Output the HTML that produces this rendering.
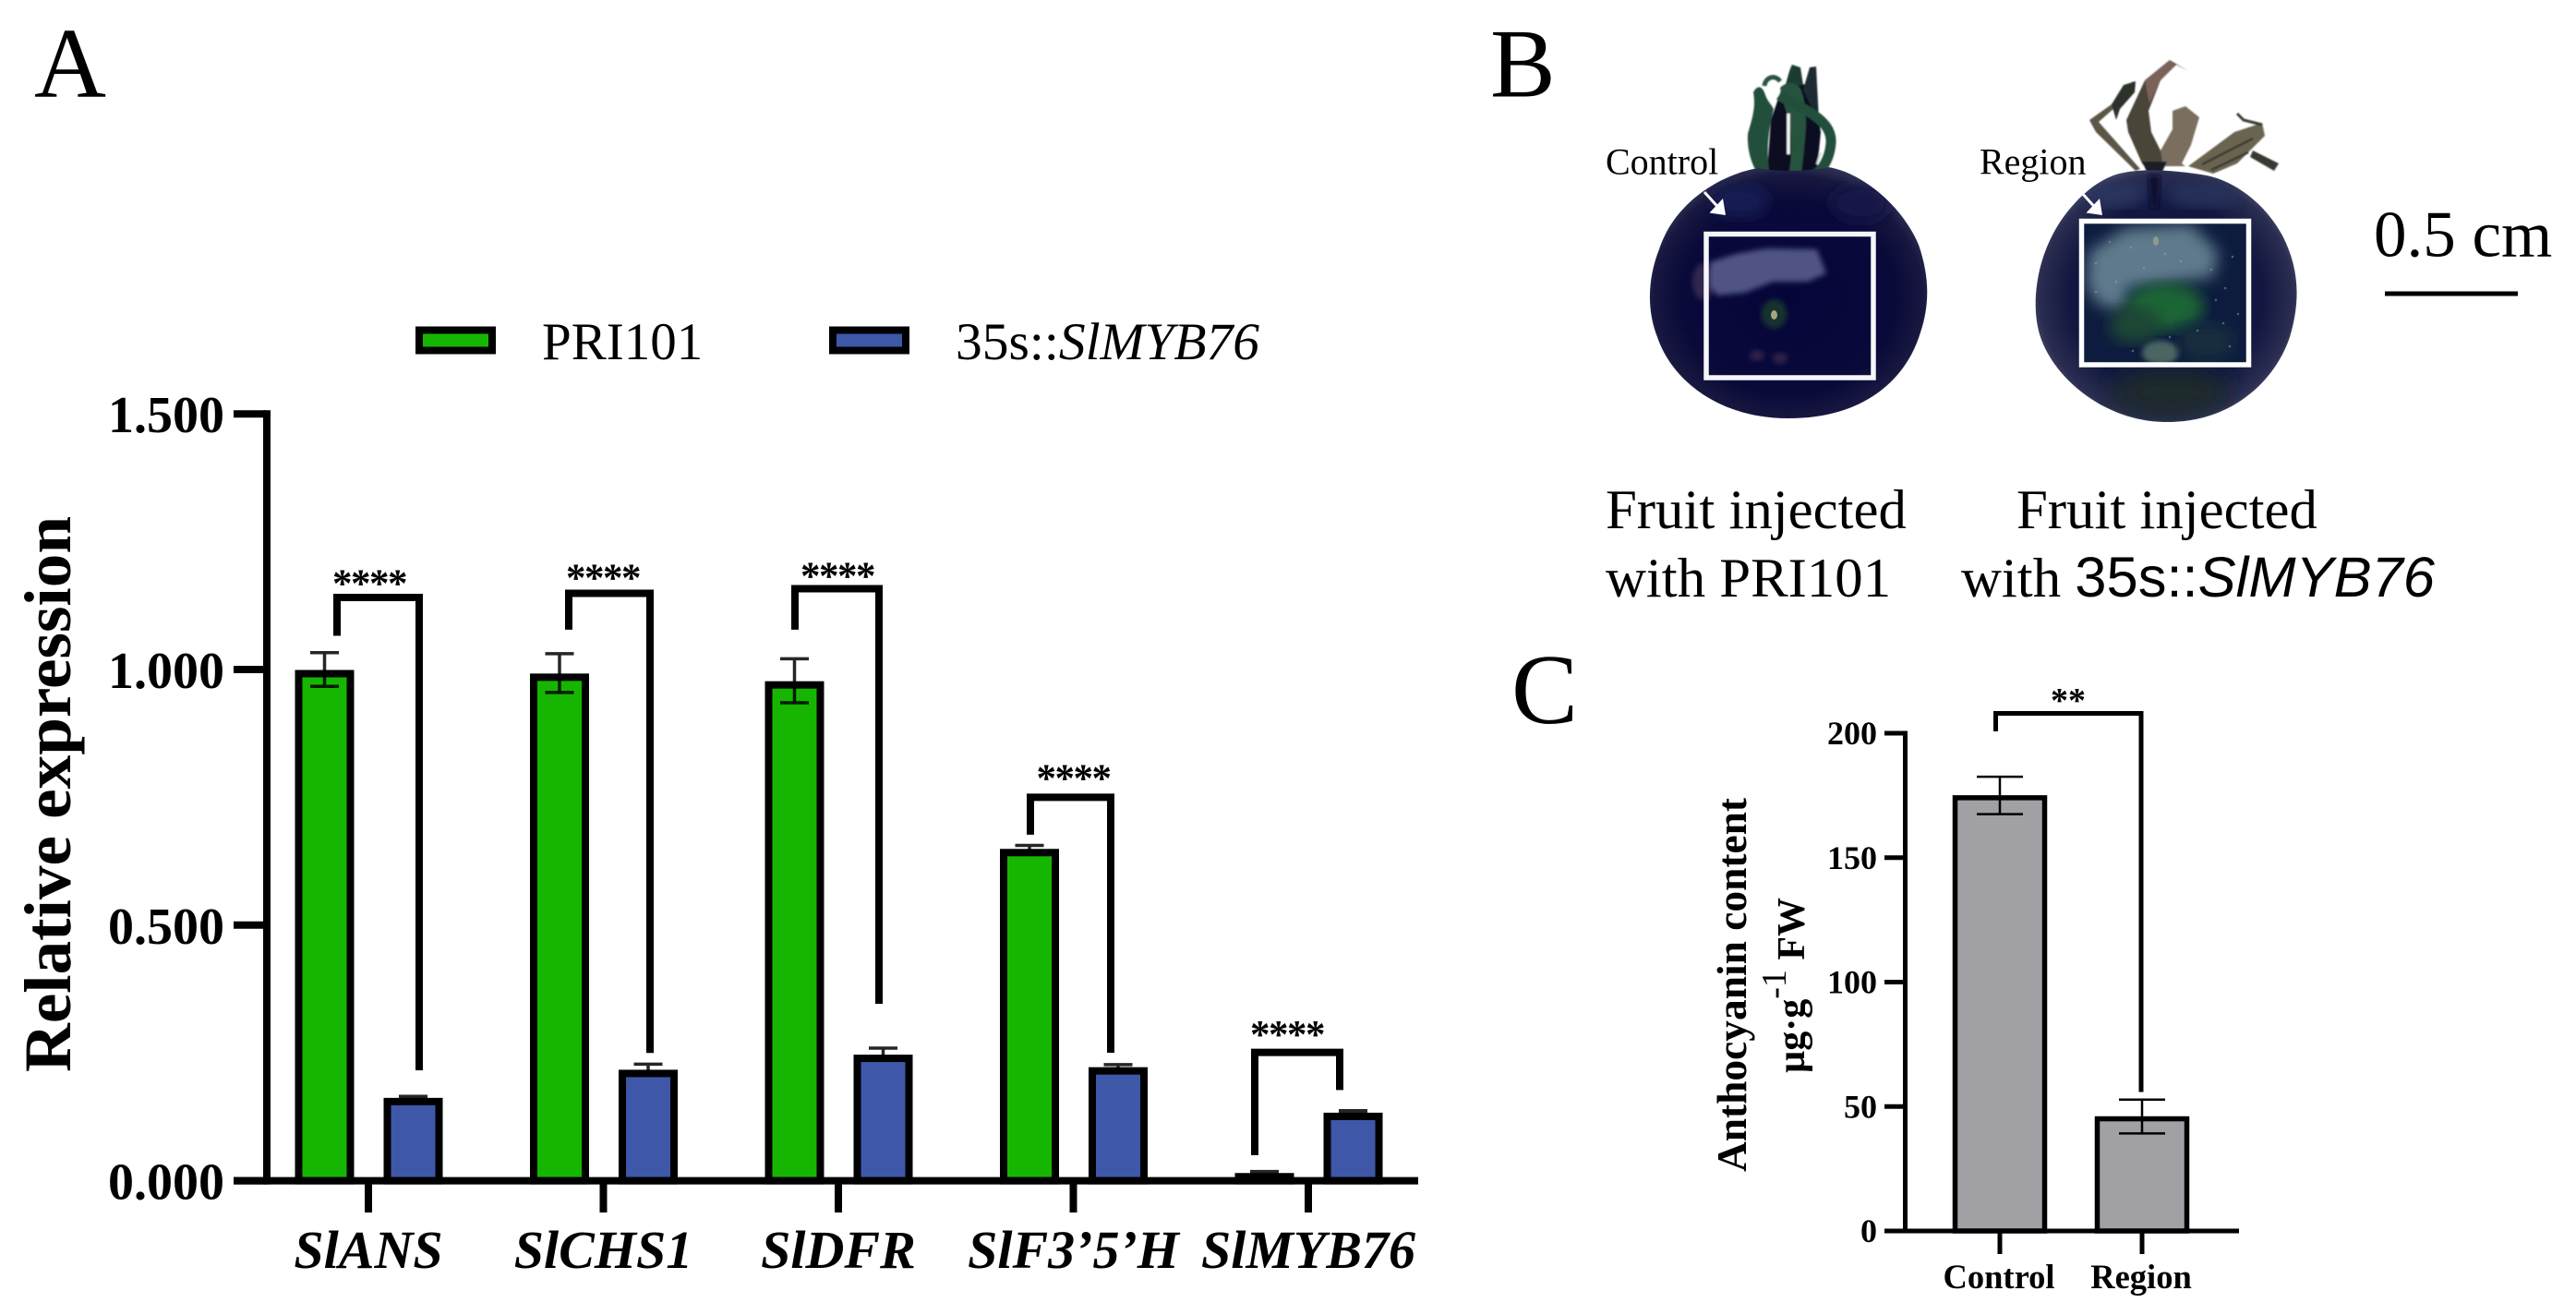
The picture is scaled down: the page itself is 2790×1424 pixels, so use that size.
<!DOCTYPE html>
<html lang="en">
<head>
<meta charset="utf-8">
<title>SlMYB76 expression and anthocyanin content</title>
<style>
html,body{margin:0;padding:0;background:#fff;width:2790px;height:1424px;overflow:hidden}
svg{display:block}
text{font-family:"Liberation Serif",serif;fill:#000}
</style>
</head>
<body>
<svg id="fig" xmlns="http://www.w3.org/2000/svg" width="2790" height="1424" viewBox="0 0 2790 1424">
<defs>
<radialGradient id="t1" cx="50%" cy="52%" r="54%">
<stop offset="0" stop-color="#05053a"/><stop offset=".7" stop-color="#09093a"/><stop offset=".9" stop-color="#17173f"/><stop offset="1" stop-color="#2f3355"/>
</radialGradient>
<radialGradient id="t2" cx="50%" cy="50%" r="54%">
<stop offset="0" stop-color="#0e1640"/><stop offset=".68" stop-color="#111740"/><stop offset=".9" stop-color="#2a2d50"/><stop offset="1" stop-color="#4c5570"/>
</radialGradient>
<filter id="b1"><feGaussianBlur stdDeviation="0.800"/></filter>
<filter id="b3"><feGaussianBlur stdDeviation="3"/></filter>
<filter id="b8"><feGaussianBlur stdDeviation="8"/></filter>
<filter id="b16"><feGaussianBlur stdDeviation="13"/></filter>
<clipPath id="c2"><rect x="2254" y="239" width="182" height="156"/></clipPath>
<clipPath id="e1"><path d="M1905 182C1870 187 1815 215 1797 270C1785 300 1783 335 1795 365C1810 410 1860 453 1937 453C2020 453 2065 410 2080 360C2090 330 2090 300 2078 265C2060 222 2015 186 1980 181C1960 186 1920 186 1905 182Z"/></clipPath>
<clipPath id="e2"><path d="M2300 187C2270 192 2235 225 2218 265C2205 295 2200 335 2210 365C2225 410 2280 457 2347 457C2420 457 2465 410 2480 365C2492 325 2490 290 2472 255C2450 215 2415 195 2390 190C2360 185 2325 182 2300 187Z"/></clipPath>
</defs>
<rect x="0" y="0" width="2790" height="1424" fill="#fff"/>

<text x="37" y="104.500" font-size="108">A</text>
<text x="1614" y="104.500" font-size="106">B</text>
<text x="1637" y="783" font-size="108">C</text>

<g>
<rect x="454" y="357.500" width="79" height="22" fill="#16b600" stroke="#000" stroke-width="8"/>
<text x="587" y="389" font-size="57">PRI101</text>
<rect x="902" y="357.500" width="79" height="22" fill="#3e57a8" stroke="#000" stroke-width="8"/>
<text x="1035" y="389" font-size="57.500">35s::<tspan font-style="italic">SlMYB76</tspan></text>
</g>

<g id="chartA"></g>

<g>
<g filter="url(#b1)">
<path d="M1913 200L1918 130L1930 95L1963 90L1972 143L1967 195Z" fill="#0b1022"/>
<path d="M1933 95C1936 85 1938 75 1941 70L1950 73L1953 92Z" fill="#1c3a30"/>
<path d="M1953 97L1960 73L1967 72L1970 130L1960 112Z" fill="#1a2a30"/>
<path d="M1893 145C1897 130 1902 118 1899 100C1903 92 1908 93 1911 100C1914 110 1918 112 1921 118C1916 140 1912 160 1917 192L1907 194C1898 180 1892 165 1893 145Z" fill="#244f3a"/>
<path d="M1928 95C1935 88 1945 88 1950 96C1956 110 1957 130 1955 150C1953 170 1952 185 1949 195L1936 195C1942 170 1941 140 1936 125C1933 115 1930 108 1928 95Z" fill="#26523c"/>
<path d="M1911 93C1912 84 1922 80 1928 88" fill="none" stroke="#2a5540" stroke-width="5"/>
<path d="M1927 103C1950 118 1985 128 1983 155C1981 180 1965 195 1947 200" fill="none" stroke="#24503a" stroke-width="11"/>
<path d="M1937 123V167" stroke="#f4f4f4" stroke-width="3.500"/>
<path d="M1972 165L1968 178" stroke="#d6dcd6" stroke-width="2.500"/>
<path d="M1915 205H1958" stroke="#6a6a50" stroke-width="4"/>
</g>
<path d="M1905 182C1870 187 1815 215 1797 270C1785 300 1783 335 1795 365C1810 410 1860 453 1937 453C2020 453 2065 410 2080 360C2090 330 2090 300 2078 265C2060 222 2015 186 1980 181C1960 186 1920 186 1905 182Z" fill="url(#t1)"/>
<g clip-path="url(#e1)">
<ellipse cx="1885" cy="218" rx="30" ry="18" fill="#191c52" filter="url(#b8)"/>
<ellipse cx="2015" cy="220" rx="32" ry="20" fill="#15174a" filter="url(#b8)"/>
<ellipse cx="1845" cy="305" rx="12" ry="20" fill="#33264f" filter="url(#b3)"/>
<path d="M1852 284L1880 275L1913 269L1968 270L1978 296L1958 305L1920 305L1890 317L1860 320L1852 310Z" fill="#575c8c" fill-opacity=".9" filter="url(#b3)"/>
<ellipse cx="1921.500" cy="340" rx="14" ry="16" fill="#14302f" filter="url(#b3)"/>
<ellipse cx="1921.500" cy="341" rx="3.500" ry="5" fill="#a8a47c"/>
<ellipse cx="1903" cy="385" rx="8" ry="6" fill="#2e2248" filter="url(#b3)"/>
<ellipse cx="1928" cy="388" rx="8" ry="6" fill="#2e2248" filter="url(#b3)"/>
</g>
<rect x="1848" y="253.500" width="181" height="155.500" fill="none" stroke="#f6f6fa" stroke-width="5.500"/>
<line x1="1846" y1="208" x2="1865" y2="229" stroke="#fff" stroke-width="3"/>
<path d="M1869 233L1851.500 230.500L1866 215Z" fill="#fff"/>
<text x="1739" y="188.500" font-size="40">Control</text>
</g>

<g>
<g filter="url(#b1)">
<path d="M2263 130L2287 113L2310 88L2313 93L2290 117L2273 132L2318 183L2313 185L2270 143Z" fill="#5c5647"/>
<path d="M2287 113L2300 92L2313 88L2312 100L2296 118L2292 130Z" fill="#2a302a"/>
<path d="M2303 130L2323 87L2350 65L2370 77L2357 70L2340 87L2327 120L2330 143L2347 177L2330 187L2320 177L2305 143Z" fill="#4a4538"/>
<path d="M2323 87L2350 65L2356 70L2340 87L2328 112Z" fill="#7a6258"/>
<path d="M2353 120L2367 115L2382 127L2373 157L2363 177L2367 180L2343 180L2340 163L2353 140Z" fill="#7a6e5e"/>
<path d="M2370 180L2420 143L2450 133L2453 147L2437 163L2423 177L2397 188L2380 183Z" fill="#6a6350"/>
<path d="M2385 178L2440 150M2395 184L2435 165" stroke="#3a3a30" stroke-width="2.500"/>
<path d="M2423 123L2430 130L2450 135" fill="none" stroke="#3a3a34" stroke-width="3"/>
<path d="M2440 163L2468 177L2463 185L2437 170Z" fill="#343a32"/>
<path d="M2320 175L2347 175L2340 190L2337 207L2327 207L2327 190Z" fill="#1c1d28"/>
</g>
<path d="M2300 187C2270 192 2235 225 2218 265C2205 295 2200 335 2210 365C2225 410 2280 457 2347 457C2420 457 2465 410 2480 365C2492 325 2490 290 2472 255C2450 215 2415 195 2390 190C2360 185 2325 182 2300 187Z" fill="url(#t2)"/>
<g clip-path="url(#e2)">
<ellipse cx="2290" cy="210" rx="35" ry="14" fill="#2a3460" filter="url(#b8)"/>
<ellipse cx="2385" cy="210" rx="40" ry="14" fill="#27325a" filter="url(#b8)"/>
<path d="M2326 190H2340L2337 225H2330Z" fill="#0b1030" filter="url(#b3)"/>
<ellipse cx="2350" cy="425" rx="65" ry="26" fill="#1c2a2c" filter="url(#b16)"/>
</g>
<g clip-path="url(#c2)">
<rect x="2254" y="239" width="182" height="156" fill="#0d1c3e"/>
<path d="M2262 273L2303 247L2373 243L2403 273L2397 300L2303 313L2303 337L2273 330L2260 310Z" fill="#5f7a8c" filter="url(#b8)"/>
<ellipse cx="2345" cy="332" rx="42" ry="26" fill="#1f6535" filter="url(#b8)"/>
<ellipse cx="2312" cy="352" rx="28" ry="20" fill="#1c4636" filter="url(#b8)"/>
<ellipse cx="2340" cy="382" rx="20" ry="13" fill="#4c6562" filter="url(#b3)"/>
<ellipse cx="2390" cy="370" rx="30" ry="20" fill="#152e3c" filter="url(#b8)"/>
<ellipse cx="2335" cy="261" rx="3" ry="5" fill="#8f9a8c"/>
<g fill="#9fb0a8" fill-opacity=".45">
<circle cx="2270" cy="285" r="1.300"/><circle cx="2285" cy="262" r="1.300"/><circle cx="2308" cy="268" r="1.300"/><circle cx="2322" cy="290" r="1.300"/><circle cx="2345" cy="275" r="1.300"/><circle cx="2362" cy="283" r="1.300"/><circle cx="2395" cy="292" r="1.300"/><circle cx="2410" cy="312" r="1.300"/><circle cx="2418" cy="278" r="1.300"/><circle cx="2424" cy="340" r="1.300"/><circle cx="2408" cy="350" r="1.300"/><circle cx="2380" cy="358" r="1.300"/><circle cx="2310" cy="380" r="1.300"/><circle cx="2270" cy="316" r="1.300"/><circle cx="2292" cy="305" r="1.300"/><circle cx="2400" cy="325" r="1.300"/><circle cx="2415" cy="375" r="1.300"/><circle cx="2350" cy="365" r="1.300"/>
</g>
</g>
<rect x="2254.500" y="239.500" width="181" height="155.500" fill="none" stroke="#fff" stroke-width="5.500"/>
<line x1="2254" y1="208" x2="2273" y2="229" stroke="#fff" stroke-width="3"/>
<path d="M2277 233L2259.500 230.500L2274 215Z" fill="#fff"/>
<text x="2144" y="188.500" font-size="40">Region</text>
</g>

<text x="2571" y="277.500" font-size="71">0.5 cm</text>
<rect x="2583" y="315.500" width="144" height="5" fill="#000"/>

<text x="1739" y="572" font-size="60.800">Fruit injected</text>
<text x="1739" y="646" font-size="60.800">with PRI101</text>
<text x="2184" y="572" font-size="60.800">Fruit injected</text>
<text x="2124" y="646" font-size="60.800">with <tspan font-family="Liberation Sans, sans-serif" font-size="61.500">35s::<tspan font-style="italic">SlMYB76</tspan></tspan></text>

<g id="chartC"></g>
</svg>

<script>
/* Panel A data */
const geneLabels = ['SlANS', 'SlCHS1', 'SlDFR', 'SlF3\u20195\u2019H', 'SlMYB76'];
const pri101Values = [1.0, 0.993, 0.978, 0.65, 0.016];
const pri101Errors = [0.033, 0.038, 0.043, 0.006, 0.002];
const myb76Values = [0.163, 0.218, 0.2475, 0.223, 0.134];
const myb76Errors = [0.002, 0.01, 0.012, 0.004, 0.003];
const expressionTicks = [0, 0.5, 1.0, 1.5];
const expressionTickLabels = ['0.000', '0.500', '1.000', '1.500'];

/* Panel C data */
const sampleLabels = ['Control', 'Region'];
const anthocyaninValues = [175, 46];
const anthocyaninErrors = [7.5, 6.8];
const anthocyaninTicks = [0, 50, 100, 150, 200];

const NS = 'http://www.w3.org/2000/svg';
function make(tag, parent, attrs, txt) {
  const n = document.createElementNS(NS, tag);
  for (const k in attrs) n.setAttribute(k, attrs[k]);
  if (txt !== undefined) n.textContent = txt;
  parent.appendChild(n);
  return n;
}

/* ---------- Panel A ---------- */
const gA = document.getElementById('chartA');
const yA = v => 1278.6 - v * 553.6;
const xA = i => 399 + i * 254.5;

function drawBarA(i, v, e, off, fill, series) {
  const cx = xA(i) + off;
  const bar = make('rect', gA, {x: cx - 28, y: yA(v) + 4.5, width: 56, height: Math.max(0, yA(0) - yA(v) - 4.5), fill: fill, stroke: '#000', 'stroke-width': 8});
  
  
  const err = make('path', gA, {d: 'M' + (cx - 15.5) + ' ' + yA(v + e) + 'H' + (cx + 15.5) + 'M' + cx + ' ' + yA(v + e) + 'V' + yA(v - e) + 'M' + (cx - 15.5) + ' ' + yA(v - e) + 'H' + (cx + 15.5), fill: 'none', stroke: '#000', 'stroke-opacity': 0.85, 'stroke-width': 3.5});
  
  
}
geneLabels.forEach((g, i) => {
  drawBarA(i, pri101Values[i], pri101Errors[i], -47.5, '#16b600', 'pri101');
  drawBarA(i, myb76Values[i], myb76Errors[i], 48.5, '#3e57a8', 'myb76');
  const tick = make('line', gA, {x1: xA(i), x2: xA(i), y1: 1278, y2: 1313, stroke: '#000', 'stroke-width': 8});
  
  
  const lab = make('text', gA, {x: xA(i), y: 1373, 'text-anchor': 'middle', 'font-size': 58, 'font-weight': 'bold', 'font-style': 'italic'}, g);
  
  
});
const axisYA = make('line', gA, {x1: 289, x2: 289, y1: yA(1.5) - 4, y2: yA(0) + 4, stroke: '#000', 'stroke-width': 8});


const axisXA = make('line', gA, {x1: 253, x2: 1536, y1: yA(0), y2: yA(0), stroke: '#000', 'stroke-width': 8});


expressionTicks.forEach((t, i) => {
  const tk = make('line', gA, {x1: 253, x2: 289, y1: yA(t), y2: yA(t), stroke: '#000', 'stroke-width': 8});
  
  
  const lb = make('text', gA, {x: 243, y: yA(t) + 20, 'text-anchor': 'end', 'font-size': 56, 'font-weight': 'bold'}, expressionTickLabels[i]);
  
  
});
const titleA = make('text', gA, {transform: 'translate(76,1161) rotate(-90)', 'font-size': 72, 'font-weight': 'bold', textLength: 602, lengthAdjust: 'spacingAndGlyphs'}, 'Relative expression');



function bracketA(i, dl, dr, top, left, right, starDx, starY) {
  const c = xA(i);
  const br = make('path', gA, {d: 'M' + (c + dl) + ' ' + yA(left) + 'V' + yA(top) + 'H' + (c + dr) + 'V' + yA(right), fill: 'none', stroke: '#000', 'stroke-width': 8});
  
  
  const st = make('text', gA, {x: c + starDx, y: starY + 19, 'text-anchor': 'middle', 'font-size': 43, 'font-weight': 'bold', 'letter-spacing': '-1.5'}, '****');
  
  
}
bracketA(0, -34, 55, 1.141, 1.066, 0.216, 1, 627);
bracketA(1, -37.5, 50.5, 1.149, 1.078, 0.25, -0.5, 621);
bracketA(2, -47, 44, 1.158, 1.078, 0.346, -1, 619);
bracketA(3, -46.5, 40.5, 0.75, 0.677, 0.2504, 0, 838);
bracketA(4, -58, 34, 0.251, 0.05, 0.1775, -23, 1115.5);

/* ---------- Panel C ---------- */
const gC = document.getElementById('chartC');
const yC = v => 1333 - v * 2.695;
const xC = i => 2166 + i * 154;

sampleLabels.forEach((s, i) => {
  const v = anthocyaninValues[i], e = anthocyaninErrors[i], cx = xC(i);
  const bar = make('rect', gC, {x: cx - 48.5, y: yC(v) + 2.5, width: 97, height: Math.max(0, yC(0) - yC(v) - 2.5), fill: '#a0a0a5', stroke: '#000', 'stroke-width': 5.5});
  
  
  const err = make('path', gC, {d: 'M' + (cx - 25) + ' ' + yC(v + e) + 'H' + (cx + 25) + 'M' + cx + ' ' + yC(v + e) + 'V' + yC(v - e) + 'M' + (cx - 25) + ' ' + yC(v - e) + 'H' + (cx + 25), fill: 'none', stroke: '#000', 'stroke-width': 2.5});
  
  
  const tick = make('line', gC, {x1: cx, x2: cx, y1: 1333, y2: 1358, stroke: '#000', 'stroke-width': 5});
  
  
  const lab = make('text', gC, {x: cx - 1, y: 1395, 'text-anchor': 'middle', 'font-size': 36.5, 'font-weight': 'bold'}, s);
  
  
});
const axisYC = make('line', gC, {x1: 2063.5, x2: 2063.5, y1: yC(200) - 2.5, y2: yC(0) + 2.5, stroke: '#000', 'stroke-width': 5});


const axisXC = make('line', gC, {x1: 2041, x2: 2425, y1: yC(0), y2: yC(0), stroke: '#000', 'stroke-width': 5});


anthocyaninTicks.forEach(t => {
  const tk = make('line', gC, {x1: 2041, x2: 2063, y1: yC(t), y2: yC(t), stroke: '#000', 'stroke-width': 5});
  
  
  const lb = make('text', gC, {x: 2033, y: yC(t) + 12, 'text-anchor': 'end', 'font-size': 36, 'font-weight': 'bold'}, String(t));
  
  
});
const brC = make('path', gC, {d: 'M2161.5 792V772.5H2319V1182.5', fill: 'none', stroke: '#000', 'stroke-width': 5});


const starC = make('text', gC, {x: 2240, y: 771, 'text-anchor': 'middle', 'font-size': 38, 'font-weight': 'bold'}, '**');


const titleC = make('text', gC, {transform: 'translate(1891,1269) rotate(-90)', 'font-size': 46, 'font-weight': 'bold', textLength: 405, lengthAdjust: 'spacingAndGlyphs'}, 'Anthocyanin content');


const unitC = make('text', gC, {transform: 'translate(1954,1162) rotate(-90)', 'font-size': 42, 'font-weight': 'bold'});


make('tspan', unitC, {}, '\u00b5g\u00b7g');
make('tspan', unitC, {dy: -20, 'font-size': 38, 'font-weight': 'normal'}, '-1');
make('tspan', unitC, {dy: 20}, ' FW');
</script>
</body>
</html>
